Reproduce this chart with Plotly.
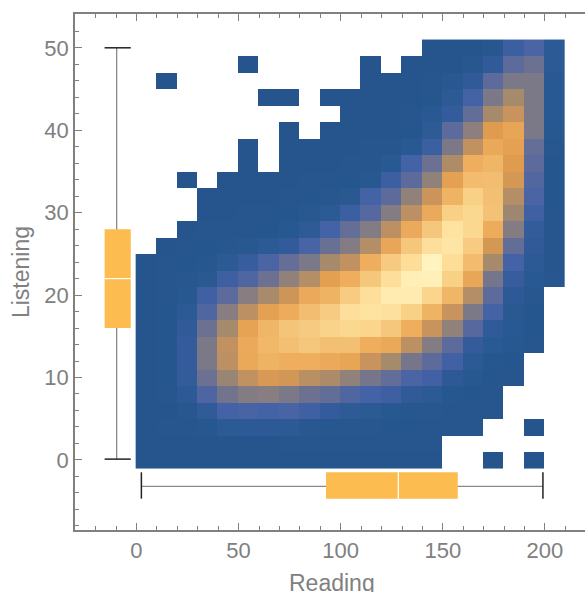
import plotly.graph_objects as go

# Density levels by row (bottom row y=0 to top row y=50), columns x=5..205; None = empty bin
N = None
r00 = [0,0,0,0,0,0,0,0,0,0,0,0,0,0,0,N,N,0,N,0,N]
r01 = [0,0,0,0,0,0,0,.1,.1,.1,.1,.1,.1,.1,.1,N,N,N,N,N,N]
r02 = [0,.1,.1,.4,1,1.2,1.2,1,.6,.4,.3,.3,.2,.2,.1,.1,.1,N,N,0,N]
r03 = [0,0,.3,1.5,3,3.2,3,3.2,2.7,2,1.3,1.1,.5,.4,.3,.1,.1,.1,N,N,N]
r04 = [0,.1,1.2,3.4,4.7,5.2,5.3,5,4.5,4.2,3.5,3,2.6,1.5,1,.4,.2,.1,N,N,N]
r05 = [0,.2,1.8,4.5,5.7,7,7.7,7.5,6.7,6.2,5.5,4.8,4.2,3.3,2.8,1.2,.5,.2,.1,N,N]
r06 = [0,.2,2,5,6.8,8.7,9.2,9,9,8.8,8.5,7.2,6,4.8,4,2.8,1,.4,.2,N,N]
r07 = [0,.2,2,5,7,8.8,9.4,9.7,10,9.7,9.7,9,8.7,6.8,5.2,4,2,.9,.5,.1,N]
r08 = [0,.2,1.5,4.5,6,8.4,9.3,9.9,10.2,10.7,11,10.8,10,9,7.2,5.5,3.8,1.6,.7,.2,N]
r09 = [0,.2,1.1,3.5,5.3,6.8,8.3,8.9,9.6,10.3,11.7,12,11.8,10.5,9.2,7.2,5,3,.8,.2,N]
r10 = [0,.1,.5,2.7,4,5.3,6.1,7.4,8.8,9.2,10.3,11.7,12.5,12.5,10.8,9.3,6.5,4,1.2,.3,N]
r11 = [0,.1,.3,.8,2.6,3.5,4.5,5.5,6.5,8.2,9,10,11.7,12.7,12.8,10.5,8.6,4.8,2.2,.7,.3]
r12 = [0,.1,.2,.4,1,2.2,3.3,4.3,5,6,7,9,10.2,11.5,13,11.5,9.5,6,3,1,.1]
r13 = [N,0,.1,.2,.3,.5,1,1.7,3.2,4.4,5.2,6.5,8.6,10,11.7,12.2,10.3,7.6,4.2,1.5,.1]
r14 = [N,N,0,.1,.1,.1,.2,.5,1.3,3,4.3,5.2,6.8,8.8,10,12,11,8.9,5.2,1.8,.1]
r15 = [N,N,N,0,0,.1,.1,.2,.6,1,2.5,3.7,5.2,6.8,8.8,10.5,11,9.8,5.8,2.7,.1]
r16 = [N,N,N,0,0,0,0,.1,.2,.3,.8,3,4,5.5,7.3,9.2,10.5,9.7,6.5,3.3,.2]
r17 = [N,N,0,N,0,0,0,0,.1,.1,.2,.5,2.5,4,5.5,8.3,9.5,9.6,7.6,3.6,.2]
r18 = [N,N,N,N,N,0,N,0,0,0,.1,.1,.7,3,4.5,6.3,9,9.3,8,4,.2]
r19 = [N,N,N,N,N,0,N,0,0,0,0,.1,.1,.7,2.5,5,7,8.7,8.3,4.3,.3]
r20 = [N,N,N,N,N,N,N,0,N,0,0,0,0,.2,1.3,4,5.4,8,8.5,5,.5]
r21 = [N,N,N,N,N,N,N,N,N,N,0,0,0,.1,.7,2,4.2,6,7.2,5,.7]
r22 = [N,N,N,N,N,N,0,0,N,0,0,0,0,0,.2,1,3,5,6,5,.7]
r23 = [N,0,N,N,N,N,N,N,N,N,N,0,0,0,.1,.5,1.5,4,5,5,.7]
r24 = [N,N,N,N,N,0,N,N,N,N,N,0,N,0,0,0,.3,1.5,4,4.5,1]
r25 = [N,N,N,N,N,N,N,N,N,N,N,N,N,N,0,0,0,.3,2.5,3.3,1]
density = [r00,r01,r02,r03,r04,r05,r06,r07,r08,r09,r10,r11,r12,r13,r14,r15,r16,r17,r18,r19,r20,r21,r22,r23,r24,r25]

level_colors = ["#25558c","#2b5a94","#345c9c","#4462a6","#5c6a9c","#7b7888","#a58a6c",
                "#c29160","#e09c4e","#eeae5e","#f5c77c","#fbd88f","#fee2a0","#fff3c0"]

# Box-and-whisker summaries (min, q1, median, q3, max)
read_stats = [2.4, 92.8, 128.2, 157.3, 199]
listen_stats = [0.1, 16, 22, 28, 50]
read_box_band = [-4.7, -3.2, -1.5]    # y low, centre, high
listen_box_band = [-15.6, -9.7, -2.8] # x low, centre, high

BOX = "#fdbc4f"
GREY = "#808080"
fig = go.Figure()

fig.add_trace(go.Heatmap(
    z=density, x0=4.6, dx=10, y0=0, dy=2, zmin=0, zmax=13, showscale=False, hoverongaps=False,
    colorscale=[[i/(len(level_colors)-1), c] for i, c in enumerate(level_colors)]))

def seg(x, y, color, w):
    fig.add_trace(go.Scatter(x=x, y=y, mode="lines", line=dict(color=color, width=w), hoverinfo="skip", showlegend=False))

def rect(x, y):
    fig.add_trace(go.Scatter(x=x, y=y, mode="lines", fill="toself", fillcolor=BOX, line=dict(width=0),
                             hoverinfo="skip", showlegend=False))

# Horizontal box (Reading)
lo, mid, hi = read_box_band
mn, q1, me, q3, mx = read_stats
seg([mn, mx], [mid, mid], "#8a8a8a", 1.3)
rect([q1, q3, q3, q1, q1], [lo, lo, hi, hi, lo])
seg([me, me], [lo, hi], "#ffffff", 1.2)
seg([mn, mn], [lo, hi], "#222222", 1.5)
seg([mx, mx], [lo, hi], "#222222", 1.5)

# Vertical box (Listening)
lo, mid, hi = listen_box_band
mn, q1, me, q3, mx = listen_stats
seg([mid, mid], [mn, mx], "#8a8a8a", 1.3)
rect([lo, hi, hi, lo, lo], [q1, q1, q3, q3, q1])
seg([lo, hi], [me, me], "#ffffff", 1.2)
seg([lo, hi], [mn, mn], "#222222", 1.5)
seg([lo, hi], [mx, mx], "#222222", 1.5)

axis_common = dict(showgrid=False, zeroline=False, showline=True, linecolor=GREY, linewidth=1.5,
                   ticks="inside", tickcolor=GREY, tickwidth=1.3, ticklen=7, automargin=False,
                   tickfont=dict(family="Liberation Sans", size=22, color="#808080"))
fig.update_layout(
    width=585, height=592, margin=dict(l=75, r=0, t=14, b=62),
    paper_bgcolor="white", plot_bgcolor="white", showlegend=False,
    xaxis=dict(range=[-30.1, 219.6], tick0=0, dtick=50, mirror="allticks",
               minor=dict(dtick=10, tick0=0, ticks="inside", ticklen=4, tickcolor=GREY, tickwidth=1.2),
               **axis_common),
    yaxis=dict(range=[-8.5, 54.1], tick0=0, dtick=10, mirror=False,
               minor=dict(dtick=2, tick0=0, ticks="inside", ticklen=4, tickcolor=GREY, tickwidth=1.2),
               title=dict(text="Listening", standoff=8, font=dict(family="Liberation Sans", size=23, color="#808080")),
               **axis_common),
    annotations=[dict(text="Reading", xref="paper", yref="paper", x=0.504, y=-0.1027, xanchor="center", yanchor="middle",
                      showarrow=False, font=dict(family="Liberation Sans", size=23, color="#808080"))],
)
fig.write_html("out.html", config=dict(displayModeBar=False),
               post_script="document.body.style.margin='0';document.body.style.overflow='hidden';")
